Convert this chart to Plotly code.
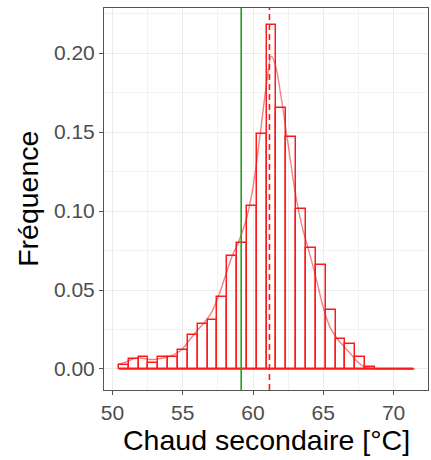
import plotly.graph_objects as go

# Histogram (density scale), 30 bins
bin_start = 50.46
bin_width = 0.7006
bar_heights = [0.0028, 0.0062, 0.0076, 0.0038, 0.0078, 0.0079, 0.0119, 0.0218,
               0.0285, 0.031, 0.0454, 0.0717, 0.080, 0.103, 0.149, 0.218,
               0.165, 0.147, 0.101, 0.0768, 0.0658, 0.0373, 0.0192, 0.0156,
               0.0078, 0.0012, 0.0, 0.0, 0.0, 0.0]

# Density curve
dens_x = [50.46, 51.0, 51.5, 52.0, 52.5, 53.0, 53.5, 54.0, 54.5, 55.0, 55.5,
          56.0, 56.5, 57.0, 57.5, 58.0, 58.5, 59.0, 59.5, 60.0, 60.5, 61.0,
          61.3, 61.6, 62.0, 62.5, 63.0, 63.5, 64.0, 64.5, 65.0, 65.5, 66.0,
          66.5, 67.0, 67.5, 68.0, 68.5, 69.0, 71.41]
dens_y = [0.003, 0.0045, 0.0065, 0.007, 0.0062, 0.006, 0.0068, 0.0078, 0.0095,
          0.013, 0.0185, 0.024, 0.029, 0.035, 0.045, 0.058, 0.071, 0.081, 0.094,
          0.115, 0.148, 0.183, 0.198, 0.192, 0.172, 0.142, 0.112, 0.09, 0.074,
          0.057, 0.039, 0.026, 0.019, 0.014, 0.009, 0.004, 0.0012, 0.0003, 0.0, 0.0]

green_x = 59.16
dashed_x = 61.17

x_ticks = [50, 55, 60, 65, 70]
y_ticks = [0, 0.05, 0.10, 0.15, 0.20]
y_ticklabels = ["0.00", "0.05", "0.10", "0.15", "0.20"]
x_title = "Chaud secondaire [°C]"
y_title = "Fréquence"

RED = "#FF1A1A"
FONT = "Liberation Sans, Arial"

centers = [bin_start + bin_width * (i + 0.5) for i in range(len(bar_heights))]

fig = go.Figure()
fig.add_trace(go.Bar(
    x=centers, y=bar_heights, width=bin_width,
    marker=dict(color="rgba(255,255,255,0)", line=dict(color=RED, width=1.5)),
    showlegend=False, hoverinfo="skip"))
fig.add_trace(go.Scatter(
    x=dens_x, y=dens_y, mode="lines",
    line=dict(color="rgba(240,24,24,0.55)", width=1.4, shape="spline"),
    showlegend=False, hoverinfo="skip"))
fig.add_trace(go.Scatter(
    x=[bin_start, bin_start + bin_width * len(bar_heights)], y=[0, 0], mode="lines",
    line=dict(color=RED, width=1.5), showlegend=False, hoverinfo="skip"))

fig.add_shape(type="line", xref="x", yref="paper", x0=green_x, x1=green_x, y0=0, y1=1,
              line=dict(color="#22A022", width=1.6))
fig.add_shape(type="line", xref="x", yref="paper", x0=dashed_x, x1=dashed_x, y0=0, y1=1,
              line=dict(color=RED, width=1.6, dash="6px,4px"))

axis_common = dict(
    showgrid=True, gridcolor="#EBEBEB", gridwidth=1.1,
    showline=True, linecolor="#555555", linewidth=1, mirror=True,
    ticks="outside", ticklen=4, tickcolor="#555555", tickwidth=1,
    tickfont=dict(family=FONT, size=21, color="#4D4D4D"),
    zeroline=False,
)

fig.update_layout(
    width=431, height=460,
    margin=dict(l=104, r=3, t=8, b=70),
    plot_bgcolor="white", paper_bgcolor="white",
    bargap=0,
    xaxis=dict(range=[49.4, 72.45], tickvals=x_ticks,
               ticktext=[str(v) for v in x_ticks],
               minor=dict(tickvals=[52.5, 57.5, 62.5, 67.5, 72.5], showgrid=True,
                          gridcolor="#F2F2F2", gridwidth=0.6, ticks=""),
               **axis_common),
    yaxis=dict(range=[-0.0133, 0.2285], tickvals=y_ticks, ticktext=y_ticklabels,
               minor=dict(tickvals=[0.025, 0.075, 0.125, 0.175, 0.225], showgrid=True,
                          gridcolor="#F2F2F2", gridwidth=0.6, ticks=""),
               **axis_common),
    annotations=[
        dict(text=x_title, xref="paper", yref="paper", x=0.5, y=-0.131,
             xanchor="center", yanchor="middle", showarrow=False,
             font=dict(family=FONT, size=28.5, color="black")),
        dict(text=y_title, xref="paper", yref="paper", x=-0.235, y=0.5,
             xanchor="center", yanchor="middle", showarrow=False, textangle=-90,
             font=dict(family=FONT, size=28.5, color="black")),
    ],
)

fig.write_html("out.html")
